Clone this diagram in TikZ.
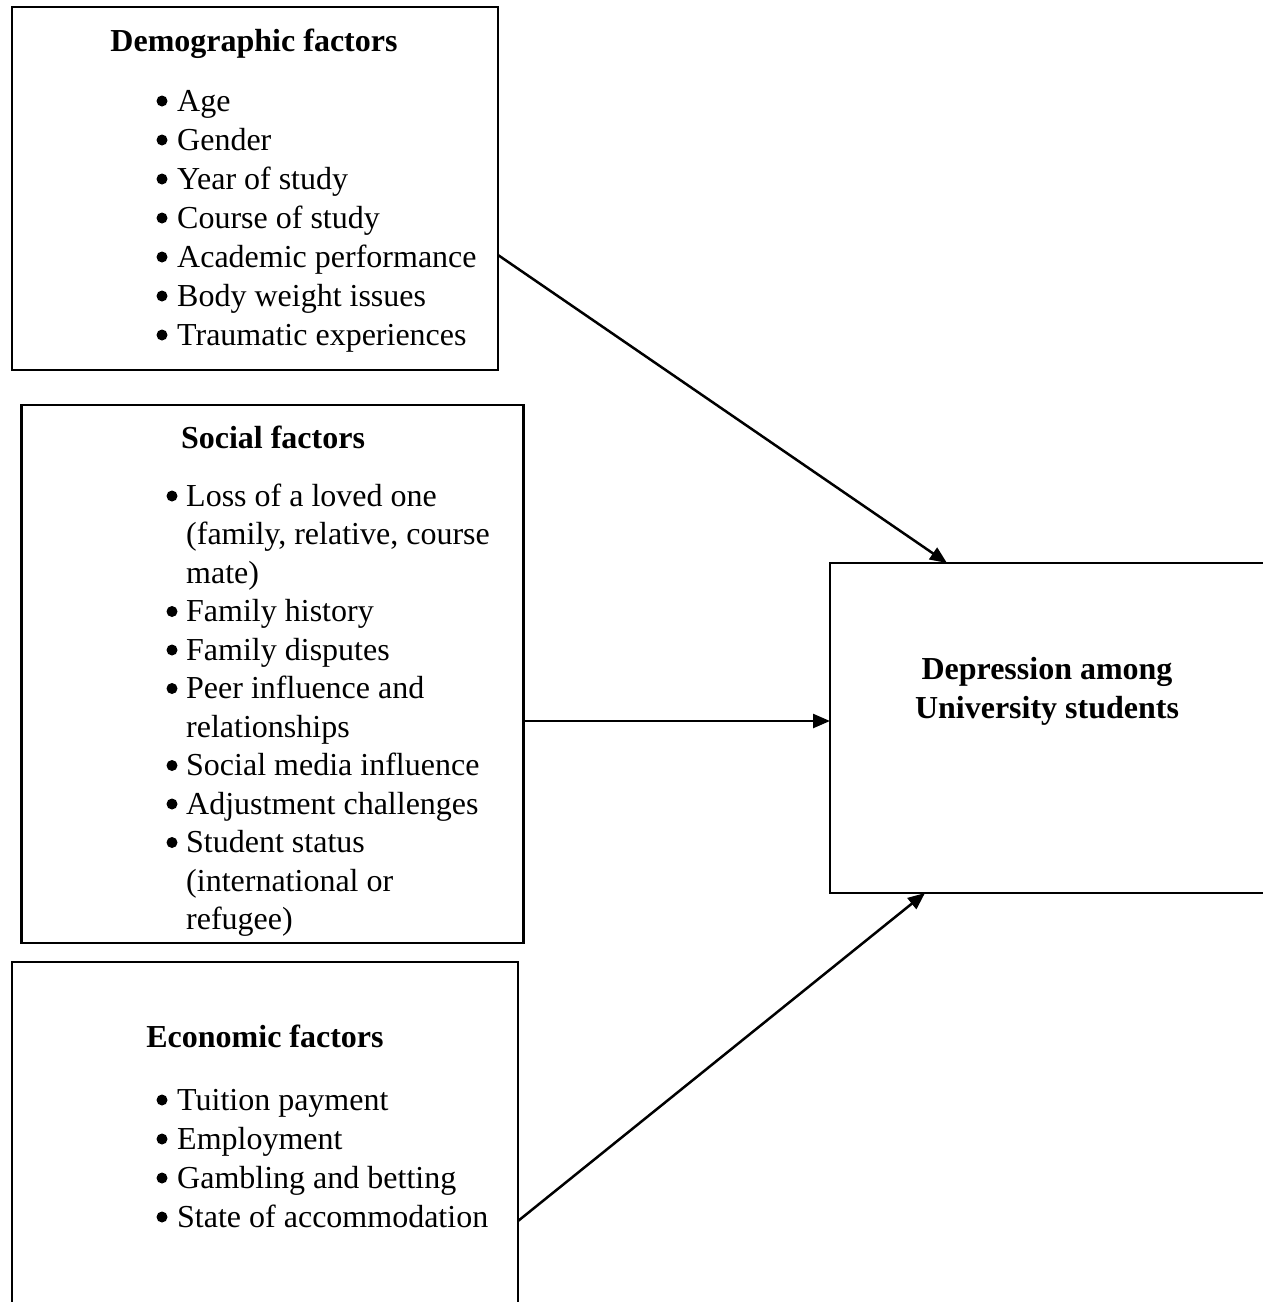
\documentclass[tikz,border=0pt]{standalone}
\usepackage{fontspec}
\setmainfont{Liberation Serif}
\usetikzlibrary{arrows.meta}
\begin{document}
\begin{tikzpicture}[x=1pt,y=-1pt,
  box/.style={draw,line width=2.5pt,rectangle,anchor=north west,inner sep=0pt,outer sep=0pt},
  ttl/.style={anchor=base,inner sep=0pt,font=\fontsize{32}{39}\selectfont\bfseries},
  itm/.style={anchor=base west,inner sep=0pt,font=\fontsize{32}{39}\selectfont},
  bul/.style={circle,fill,inner sep=0pt,minimum size=11pt},
  arr/.style={line width=2.5pt,-{Triangle[length=17pt,width=14pt]}}]
\clip (0,0) rectangle (1263,1302);
\fill[white] (0,0) rectangle (1263,1302);

% boxes
\node[box,minimum width=486pt,minimum height=363pt] (demo) at (12,7) {};
\node[box,minimum width=502pt,minimum height=538pt] (social) at (21.5,405) {};
\node[box,minimum width=506pt,minimum height=360pt] (econ) at (12,962) {};
\node[box,minimum width=450pt,minimum height=330pt] (dep) at (830,563) {};

% demographic
\node[ttl] (demoT) at (254,51) {Demographic factors};
\foreach \t [count=\i] in {Age,Gender,Year of study,Course of study,Academic performance,Body weight issues,Traumatic experiences}{
  \node[itm] (d\i) at (177,{111+39*(\i-1)}) {\t};
  \node[bul] (db\i) at (162,{101+39*(\i-1)}) {};
}

% social
\node[ttl] (socT) at (273,448) {Social factors};
\foreach \t [count=\i] in {{Loss of a loved one},{(family, relative, course},{mate)},{Family history},{Family disputes},{Peer influence and},{relationships},{Social media influence},{Adjustment challenges},{Student status},{(international or},{refugee)}}{
  \node[itm] (s\i) at (186,{506+38.5*(\i-1)}) {\t};
}
\foreach \i in {1,4,5,6,8,9,10}{
  \node[bul] (sb\i) at (172,{496+38.5*(\i-1)}) {};
}

% economic
\node[ttl] (ecoT) at (265,1047) {Economic factors};
\foreach \t [count=\i] in {Tuition payment,Employment,Gambling and betting,State of accommodation}{
  \node[itm] (e\i) at (177,{1110+39*(\i-1)}) {\t};
  \node[bul] (eb\i) at (162,{1100+39*(\i-1)}) {};
}

% depression
\node[ttl] (dep1) at (1047,679) {Depression among};
\node[ttl] (dep2) at (1047,718) {University students};

% arrows
\coordinate (a1s) at ([yshift=-248pt]demo.north east);
\coordinate (a1e) at ([xshift=117pt]dep.north west);
\coordinate (a2s) at ([yshift=-316pt]social.north east);
\coordinate (a3s) at ([yshift=-259pt]econ.north east);
\coordinate (a3e) at ([xshift=95pt]dep.south west);
\draw[arr] (a1s) -- (a1e);
\draw[arr] (a2s) -- (a2s -| dep.west);
\draw[arr] (a3s) -- (a3e);
\end{tikzpicture}
\end{document}
